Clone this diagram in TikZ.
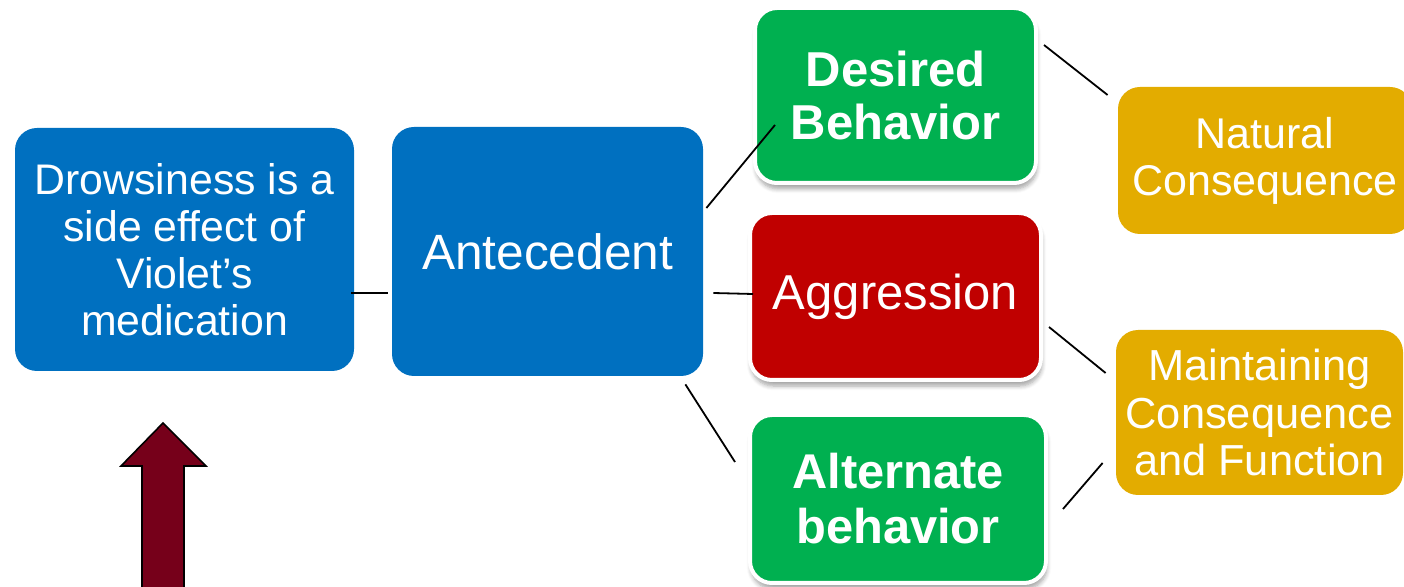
\documentclass[tikz,border=0pt]{standalone}
\usepackage{fontspec}
\setmainfont{Liberation Sans}
\usetikzlibrary{calc,shadows.blur}
\definecolor{boxblue}{HTML}{0070C0}
\definecolor{boxgreen}{HTML}{00B050}
\definecolor{boxred}{HTML}{C00000}
\definecolor{boxgold}{HTML}{E3AC00}
\definecolor{arrowred}{HTML}{76001A}
\begin{document}
\begin{tikzpicture}[x=0.5pt,y=-0.5pt,
  card/.style={rectangle, rounded corners=11pt, align=center, text=white, inner sep=0pt},
  plaincard/.style={card, fill=#1},
  framedcard/.style={card, fill=#1, draw=white, line width=2pt,
    blur shadow={shadow xshift=0.5pt, shadow yshift=-3pt, shadow blur steps=6, shadow opacity=35}},
  link/.style={draw=black, line width=0.9pt},
  fs/.style 2 args={font=\fontsize{#1}{#2}\selectfont}]
\useasboundingbox (0,0) rectangle (1404,587);

% cause and antecedent
\node[plaincard=boxblue, minimum width=169.5pt, minimum height=121.5pt, fs={21.4}{23.5}]
  (drow) at (184.5,249.5) {Drowsiness is a\\side effect of\\Violet’s\\medication};
\node[plaincard=boxblue, minimum width=155.5pt, minimum height=124.5pt, fs={24.8}{27}]
  (ante) at (547.5,251.5) {Antecedent};

% behaviours
\node[framedcard=boxgreen, minimum width=140.5pt, minimum height=87.5pt, fs={24.5}{26.5}]
  (desired) at (895.5,95.5) {\bfseries Desired\\\bfseries Behavior};
\node[framedcard=boxred, minimum width=145.5pt, minimum height=83.5pt, fs={24.5}{27}]
  (aggr) at (895.5,296.5) {Aggression};
\node[framedcard=boxgreen, minimum width=148pt, minimum height=84pt, fs={24.4}{27.5}]
  (alt) at (898,499) {\bfseries Alternate\\\bfseries behavior};

% consequences
\node[plaincard=boxgold, minimum width=147pt, minimum height=73.5pt, fs={21.5}{23.5}]
  (natural) at (1265,160.5) {Natural\\Consequence};
\node[plaincard=boxgold, minimum width=143.5pt, minimum height=82.5pt, fs={21.7}{23.75}]
  (maint) at (1259.5,412.5) {Maintaining\\Consequence\\and Function};

% connectors
\draw[link] ($(drow.east)+(-3,43.5)$) -- ($(ante.west)+(-4,41.5)$);
\draw[link] ($(ante.east)+(3,-43.5)$) -- ($(desired.west)+(22,29.5)$);
\draw[link] ($(ante.east)+(10,41.5)$) -- ($(aggr.west)+(5,-2.5)$);
\draw[link] ($(ante.south east)+(-18,8)$) -- ($(alt.west)+(-13,-37)$);
\draw[link] ($(desired.east)+(6,-50.5)$) -- ($(natural.west)+(-10,-65.5)$);
\draw[link] ($(aggr.east)+(6,30.5)$) -- ($(maint.west)+(-10,-39.5)$);
\draw[link] ($(alt.east)+(15,10)$) -- ($(maint.west)+(-13,50.5)$);

% upward block arrow
\draw[fill=arrowred, draw=black, line width=0.8pt, line join=miter]
  (142,592) -- (142,466) -- (121,466) -- (163,423) -- (206,466) -- (184,466) -- (184,592) -- cycle;
\end{tikzpicture}
\end{document}
